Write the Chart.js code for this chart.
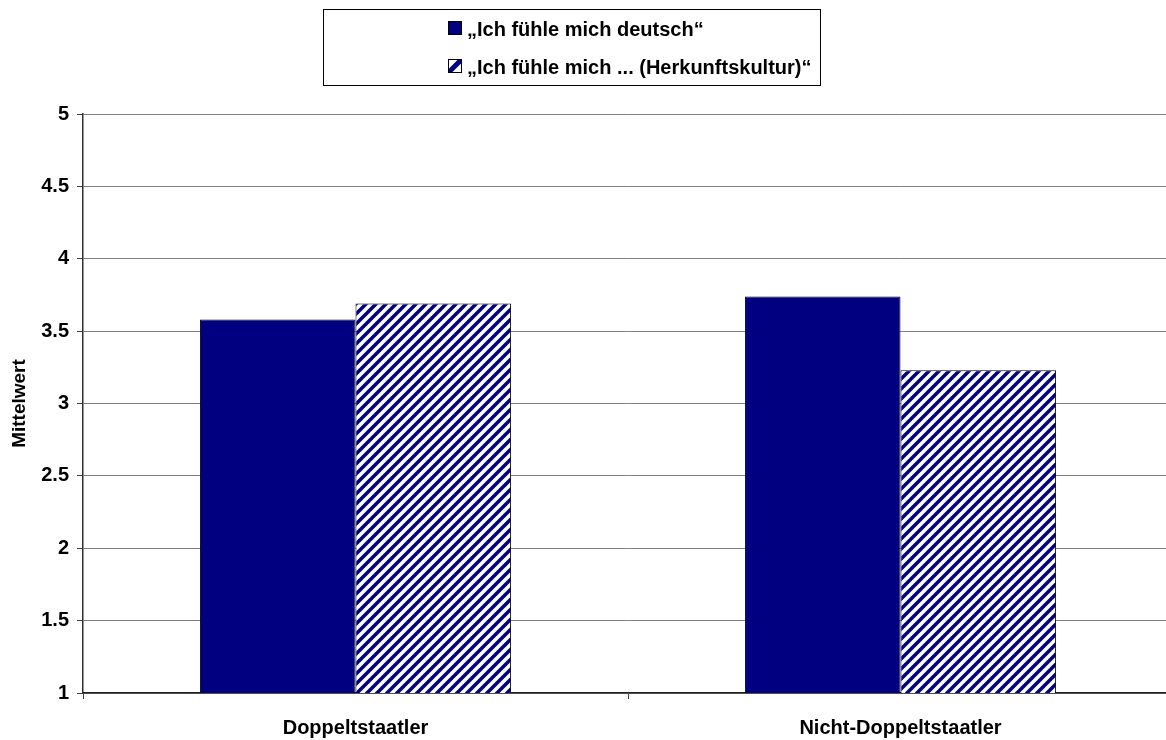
<!DOCTYPE html>
<html>
<head>
<meta charset="utf-8">
<script src="https://cdn.jsdelivr.net/npm/chart.js@4/dist/chart.umd.min.js"></script>
<style>
html, body { margin: 0; padding: 0; background: #fff; overflow: hidden; }
#wrap { width: 1166px; height: 740px; overflow: hidden; }
</style>
</head>
<body>
<div id="wrap">
<canvas id="chart" width="1173" height="740"></canvas>
</div>
<script>
var groups = ['Doppeltstaatler', 'Nicht-Doppeltstaatler'];
var seriesNames = ['\u201eIch f\u00fchle mich deutsch\u201c', '\u201eIch f\u00fchle mich ... (Herkunftskultur)\u201c'];
var deutsch = [3.58, 3.74];
var herkunft = [3.69, 3.23];
var yTitle = 'Mittelwert';

var navy = '#000080';
var fontFam = '"Liberation Sans", Arial, Helvetica, sans-serif';

// diagonal navy stripes for the second series
function makeHatch(){
	var c = document.createElement('canvas');
	c.width = 10; c.height = 10;
	var g = c.getContext('2d');
	g.fillStyle = '#fff';
	g.fillRect(0, 0, 10, 10);
	g.strokeStyle = navy;
	g.lineWidth = 3.5;
	g.beginPath();
	g.moveTo(-5, 5); g.lineTo(5, -5);
	g.moveTo(0, 10); g.lineTo(10, 0);
	g.moveTo(5, 15); g.lineTo(15, 5);
	g.stroke();
	return g.createPattern(c, 'repeat');
}
var hatch = makeHatch();

// boxed legend at the top
var boxLegend = {
	id: 'boxLegend',
	afterDraw: function(chart){
		var ctx = chart.ctx;
		ctx.save();
		ctx.strokeStyle = '#000';
		ctx.lineWidth = 1;
		ctx.strokeRect(323.5, 9.5, 497, 76);
		var ds = chart.data.datasets;
		for(var i = 0; i < ds.length; i++){
			var cy = 28 + i * 38;
			var sx = 448, sy = cy - 7;
			if(ds[i].backgroundColor instanceof CanvasPattern){
				// small swatch: one wide stripe
				ctx.fillStyle = '#fff';
				ctx.fillRect(sx, sy, 14, 14);
				ctx.save();
				ctx.beginPath();
				ctx.rect(sx, sy, 14, 14);
				ctx.clip();
				ctx.strokeStyle = navy;
				ctx.lineWidth = 5;
				ctx.beginPath();
				ctx.moveTo(sx - 2, sy + 16); ctx.lineTo(sx + 16, sy - 2);
				ctx.stroke();
				ctx.restore();
			}else{
				ctx.fillStyle = ds[i].backgroundColor;
				ctx.fillRect(sx, sy, 14, 14);
			}
			ctx.strokeStyle = '#000';
			ctx.lineWidth = 1;
			ctx.strokeRect(sx + 0.5, sy + 0.5, 13, 13);
			ctx.fillStyle = '#000';
			ctx.font = 'bold 20px ' + fontFam;
			ctx.textBaseline = 'middle';
			ctx.textAlign = 'left';
			ctx.fillText(ds[i].label, 467, cy + 2);
		}
		ctx.restore();
	}
};

var ctx = document.getElementById('chart').getContext('2d');
var chart = new Chart(ctx, {
	type: 'bar',
	data: {
		labels: groups,
		datasets: [{
			label: seriesNames[0],
			data: deutsch,
			backgroundColor: navy,
			borderColor: '#000',
			borderWidth: 1
		}, {
			label: seriesNames[1],
			data: herkunft,
			backgroundColor: hatch,
			borderColor: '#000',
			borderWidth: 1
		}]
	},
	options: {
		responsive: false,
		animation: false,
		layout: { padding: { top: 114, right: 0, left: 0, bottom: 0 } },
		plugins: {
			legend: { display: false },
			tooltip: { enabled: false }
		},
		datasets: {
			bar: { categoryPercentage: 0.571, barPercentage: 1.0 }
		},
		scales: {
			x: {
				offset: true,
				grid: { offset: true, drawOnChartArea: false, tickLength: 6, color: '#404040' },
				border: { color: '#202020', width: 1.5 },
				ticks: { color: '#000', padding: 17, font: { family: fontFam, size: 20, weight: 'bold' } },
				afterFit: function(s){ s.height = 47; }
			},
			y: {
				min: 1,
				max: 5,
				ticks: {
					stepSize: 0.5,
					color: '#000',
					padding: 8,
					font: { family: fontFam, size: 20, weight: 'bold' },
					callback: function(v){ return '' + v; }
				},
				grid: { color: '#808080', lineWidth: 1, tickLength: 6, tickColor: '#404040' },
				border: { color: '#303030', width: 1.5 },
				title: {
					display: true,
					text: yTitle,
					color: '#000',
					padding: { top: 8, bottom: 0 },
					font: { family: fontFam, size: 19, weight: 'bold' }
				},
				afterFit: function(s){ s.width = 83; }
			}
		}
	},
	plugins: [boxLegend]
});
</script>
</body>
</html>
